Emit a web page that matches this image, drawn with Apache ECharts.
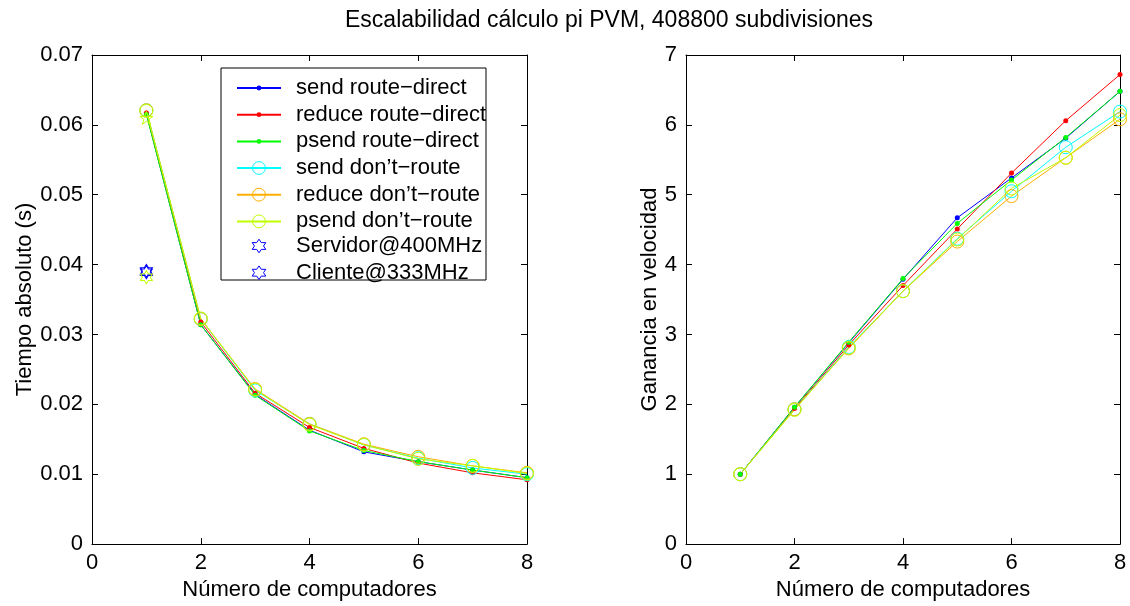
<!DOCTYPE html>
<html>
<head>
<meta charset="utf-8">
<title>Escalabilidad cálculo pi PVM</title>
<script src="https://cdn.jsdelivr.net/npm/echarts@6/dist/echarts.min.js"></script>
<style>
  html, body { margin: 0; padding: 0; background: #fff; }
  #chart { width: 1130px; height: 606px; }
</style>
</head>
<body>
<div id="chart"></div>
<script>
// Number of computers used in every run
const computers = [1, 2, 3, 4, 5, 6, 7, 8];

const seriesNames = [
  'send route\u2212direct',
  'reduce route\u2212direct',
  'psend route\u2212direct',
  'send don\u2019t\u2212route',
  'reduce don\u2019t\u2212route',
  'psend don\u2019t\u2212route'
];
const starNames = ['Servidor@400MHz', 'Cliente@333MHz'];

// Absolute time (s)
const timeSendDirect   = [0.0616, 0.0314, 0.0214, 0.0163, 0.0132, 0.0118, 0.0106, 0.0095];
const timeReduceDirect = [0.0617, 0.0318, 0.0216, 0.0167, 0.0137, 0.0116, 0.0102, 0.0092];
const timePsendDirect  = [0.0615, 0.0314, 0.0213, 0.0162, 0.0134, 0.0118, 0.0106, 0.0095];
const timeSendRoute    = [0.0621, 0.0322, 0.0220, 0.0172, 0.0142, 0.0123, 0.0109, 0.0100];
const timeReduceRoute  = [0.0621, 0.0322, 0.0222, 0.0172, 0.0143, 0.0125, 0.0112, 0.0102];
const timePsendRoute   = [0.0620, 0.0323, 0.0221, 0.0171, 0.0142, 0.0122, 0.0112, 0.0101];

// Speed-up
const speedSendDirect   = [1, 1.96, 2.88, 3.79, 4.67, 5.24, 5.81, 6.48];
const speedReduceDirect = [1, 1.94, 2.85, 3.70, 4.51, 5.31, 6.06, 6.72];
const speedPsendDirect  = [1, 1.96, 2.89, 3.80, 4.59, 5.21, 5.82, 6.48];
const speedSendRoute    = [1, 1.93, 2.82, 3.62, 4.37, 5.05, 5.68, 6.19];
const speedReduceRoute  = [1, 1.93, 2.80, 3.62, 4.33, 4.98, 5.53, 6.08];
const speedPsendRoute   = [1, 1.92, 2.81, 3.62, 4.36, 5.09, 5.53, 6.14];

// Single-machine reference times (s), measured with one computer
const serverTime = [0.0391];
const clientTime = [0.0389];
const singleHexTime = [0.0382];
const singlePentTime = [0.0610];

const xTicks = [0, 2, 4, 6, 8];
const timeTicks = ['0', '0.01', '0.02', '0.03', '0.04', '0.05', '0.06', '0.07'];
const speedTicks = ['0', '1', '2', '3', '4', '5', '6', '7'];

const colors = ['#0000ff', '#ff0000', '#00ff00', '#00ffff', '#ffb000', '#bfff00'];
const FONT = '"Liberation Sans", Arial, Helvetica, sans-serif';

function starPath(points, inner) {
  const pts = [];
  for (let i = 0; i < points * 2; i++) {
    const r = i % 2 === 0 ? 10 : 10 * inner;
    const a = -Math.PI / 2 + i * Math.PI / points;
    pts.push((r * Math.cos(a)).toFixed(2) + ',' + (r * Math.sin(a)).toFixed(2));
  }
  return 'path://M' + pts.join('L') + 'Z';
}
const HEXAGRAM = starPath(6, 0.577);
const PENTAGRAM = starPath(5, 0.382);

const timeSets = [timeSendDirect, timeReduceDirect, timePsendDirect, timeSendRoute, timeReduceRoute, timePsendRoute];
const speedSets = [speedSendDirect, speedReduceDirect, speedPsendDirect, speedSendRoute, speedReduceRoute, speedPsendRoute];

function lineSeries(i, values, axisIdx) {
  const hollow = i >= 3;
  return {
    name: seriesNames[i],
    type: 'line',
    xAxisIndex: axisIdx,
    yAxisIndex: axisIdx,
    data: computers.map((c, k) => [c, values[k]]),
    symbol: 'circle',
    symbolSize: hollow ? 13 : 5,
    showSymbol: true,
    showAllSymbol: true,
    lineStyle: { color: colors[i], width: 1 },
    itemStyle: hollow
      ? { color: 'rgba(0,0,0,0)', borderColor: colors[i], borderWidth: 1 }
      : { color: colors[i], borderWidth: 0 },
    emphasis: { disabled: true },
    silent: true
  };
}

function markSeries(name, values, symbol, size, color) {
  return {
    name: name,
    type: 'line',
    xAxisIndex: 0,
    yAxisIndex: 0,
    data: values.map(v => [computers[0], v]),
    symbol: symbol,
    symbolSize: size,
    showSymbol: true,
    lineStyle: { color: color, width: 1, opacity: 0 },
    itemStyle: { color: 'rgba(0,0,0,0)', borderColor: color, borderWidth: 1 },
    emphasis: { disabled: true },
    silent: true
  };
}

const series = [];
timeSets.forEach((v, i) => series.push(lineSeries(i, v, 0)));
series.push(markSeries(starNames[0], serverTime, HEXAGRAM, [12, 13], colors[0]));
series.push(markSeries(starNames[1], clientTime, HEXAGRAM, [12, 13], colors[0]));
series.push(markSeries('hex-extra', singleHexTime, HEXAGRAM, [12, 13], colors[5]));
series.push(markSeries('pent-extra', singlePentTime, PENTAGRAM, [13, 13], colors[5]));
speedSets.forEach((v, i) => series.push(lineSeries(i, v, 2)));

function axisBase(opts) {
  return Object.assign({
    type: 'value',
    axisLine: { show: true, onZero: false, lineStyle: { color: '#000', width: 1 } },
    axisTick: { show: true, inside: true, length: 6, lineStyle: { color: '#000', width: 1 } },
    splitLine: { show: false },
    axisLabel: { color: '#000', fontSize: 22, fontFamily: FONT },
    nameTextStyle: { color: '#000', fontSize: 22, fontFamily: FONT },
    silent: true
  }, opts);
}

function xAxes(grid, name) {
  return [
    axisBase({
      gridIndex: grid, position: 'bottom', min: xTicks[0], max: xTicks[xTicks.length - 1], interval: xTicks[1] - xTicks[0],
      name: name, nameLocation: 'middle', nameGap: 34,
      axisLabel: { color: '#000', fontSize: 22, fontFamily: FONT, margin: 8 }
    }),
    axisBase({
      gridIndex: grid, position: 'top', min: xTicks[0], max: xTicks[xTicks.length - 1], interval: xTicks[1] - xTicks[0],
      axisLabel: { show: false }
    })
  ];
}

function yAxes(grid, ticks, step, name, gap) {
  const top = (ticks.length - 1) * step;
  const fmt = v => {
    const idx = Math.round(v / step);
    return ticks[idx] !== undefined ? ticks[idx] : '';
  };
  return [
    axisBase({
      gridIndex: grid, position: 'left', min: 0, max: top, interval: step,
      name: name, nameLocation: 'middle', nameGap: gap,
      axisLabel: { color: '#000', fontSize: 22, fontFamily: FONT, margin: 9, formatter: fmt }
    }),
    axisBase({
      gridIndex: grid, position: 'right', min: 0, max: top, interval: step,
      axisLabel: { show: false }
    })
  ];
}

const legendText = { color: '#000', fontSize: 22, fontFamily: FONT, lineHeight: 24, padding: [0, 0, 0, 10] };
function legendBlock(names, top, itemHeight) {
  return {
    data: names, orient: 'vertical', left: 236, top: top,
    itemWidth: 44, itemHeight: itemHeight, itemGap: 2.7, padding: 0,
    selectedMode: false, textStyle: legendText,
    itemStyle: { borderWidth: 1 }
  };
}

const chart = echarts.init(document.getElementById('chart'), null, { renderer: 'canvas' });
chart.setOption({
  animation: false,
  backgroundColor: '#fff',
  textStyle: { fontFamily: FONT },
  title: {
    text: 'Escalabilidad cálculo pi PVM, 408800 subdivisiones',
    left: 345, top: 9, padding: 0,
    textStyle: { color: '#000', fontSize: 23, fontWeight: 'normal', fontFamily: FONT }
  },
  grid: [
    { left: 92, top: 55, width: 435, height: 490 },
    { left: 686, top: 55, width: 434, height: 490 }
  ],
  xAxis: xAxes(0, 'Número de computadores').concat(xAxes(1, 'Número de computadores')),
  yAxis: yAxes(0, timeTicks, 0.01, 'Tiempo absoluto (s)', 55).concat(yAxes(1, speedTicks, 1, 'Ganancia en velocidad', 25)),
  legend: [
    legendBlock(seriesNames.slice(0, 3), 76, 6),
    legendBlock(seriesNames.slice(3, 6), 156, 16),
    legendBlock(starNames, 234, 17)
  ],
  graphic: [{
    type: 'rect', z: 3,
    shape: { x: 221, y: 68, width: 265, height: 212 },
    style: { fill: '#fff', stroke: '#000', lineWidth: 1 }
  }],
  series: series
});
</script>
</body>
</html>
